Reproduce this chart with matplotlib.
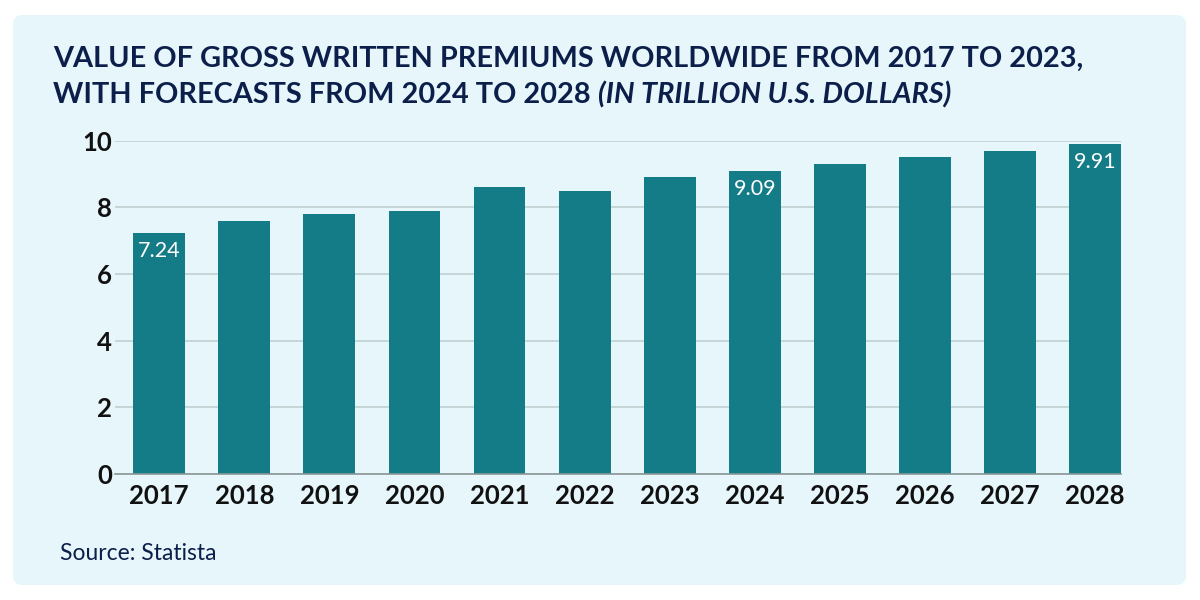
import matplotlib
matplotlib.use("Agg")
import matplotlib.pyplot as plt
from matplotlib.patches import FancyBboxPatch

years = ["2017", "2018", "2019", "2020", "2021", "2022", "2023",
         "2024", "2025", "2026", "2027", "2028"]
values = [7.24, 7.6, 7.8, 7.9, 8.6, 8.5, 8.9, 9.09, 9.3, 9.5, 9.7, 9.91]
labeled = ["2017", "2024", "2028"]
yticks = [0, 2, 4, 6, 8, 10]

NAVY = "#0C1F4A"
BAR = "#137C87"
PANEL = "#E6F6FA"

fig = plt.figure(figsize=(12, 6), dpi=100)
fig.patch.set_facecolor("white")

panel = FancyBboxPatch((13 / 1200, 15 / 600), (1186 - 13) / 1200, (585 - 15) / 600,
                       boxstyle="round,pad=0,rounding_size=0.008",
                       transform=fig.transFigure, facecolor=PANEL,
                       edgecolor="none", zorder=-10, mutation_aspect=2)
fig.patches.append(panel)

ax = fig.add_axes([115 / 1200, (600 - 474) / 600, (1121 - 115) / 1200, (474 - 140.7) / 600])
ax.set_facecolor("none")
ax.set_zorder(5)
x = list(range(len(years)))
ax.bar(x, values, width=0.61, color=BAR, zorder=3)
ax.set_xlim(-0.52, 11.305)
ax.set_ylim(0, 10)
ax.set_yticks(yticks)
ax.set_yticklabels([str(t) for t in yticks])
ax.set_xticks(x)
ax.set_xticklabels(years)
for s in ["top", "right", "left"]:
    ax.spines[s].set_visible(False)
ax.spines["bottom"].set_color("#8A9797")
ax.spines["bottom"].set_linewidth(1.2)
ax.spines["bottom"].set_zorder(4)
ax.grid(axis="y", color="#BFD0D0", linewidth=1.2, zorder=0)
ax.set_axisbelow(True)
ax.tick_params(axis="both", length=0)
ax.tick_params(axis="y", pad=2)
ax.tick_params(axis="x", pad=7)
for lab in ax.get_xticklabels() + ax.get_yticklabels():
    lab.set_fontfamily("Lato")
    lab.set_fontweight("bold")
    lab.set_fontsize(18.5)
    lab.set_color("#111111")

for xi, (yr, v) in enumerate(zip(years, values)):
    if yr in labeled:
        ax.annotate(f"{v:.2f}", (xi, v), xytext=(0, -6), textcoords="offset points",
                    ha="center", va="top", color="white", fontsize=15.5,
                    fontfamily="Lato", zorder=5)

TS = 20.8
t1 = fig.text(53 / 1200, 1 - 67 / 600,
              "VALUE OF GROSS WRITTEN PREMIUMS WORLDWIDE FROM 2017 TO 2023,",
              fontfamily="Lato", fontweight="bold", fontsize=TS, color=NAVY,
              ha="left", va="baseline")
t2 = fig.text(53 / 1200, 1 - 103 / 600,
              "WITH FORECASTS FROM 2024 TO 2028 ",
              fontfamily="Lato", fontweight="bold", fontsize=TS, color=NAVY,
              ha="left", va="baseline")
fig.canvas.draw()
bb = t2.get_window_extent()
fig.text(bb.x1 / 1200, 1 - 103 / 600, "(IN TRILLION U.S. DOLLARS)",
         fontfamily="Lato", fontweight="bold", fontstyle="italic", fontsize=TS,
         color=NAVY, ha="left", va="baseline")

fig.text(60 / 1200, 1 - 560 / 600, "Source: Statista", fontfamily="Lato",
         fontsize=16.5, color=NAVY, ha="left", va="baseline")

fig.savefig("out.png", dpi=100, facecolor="white")
